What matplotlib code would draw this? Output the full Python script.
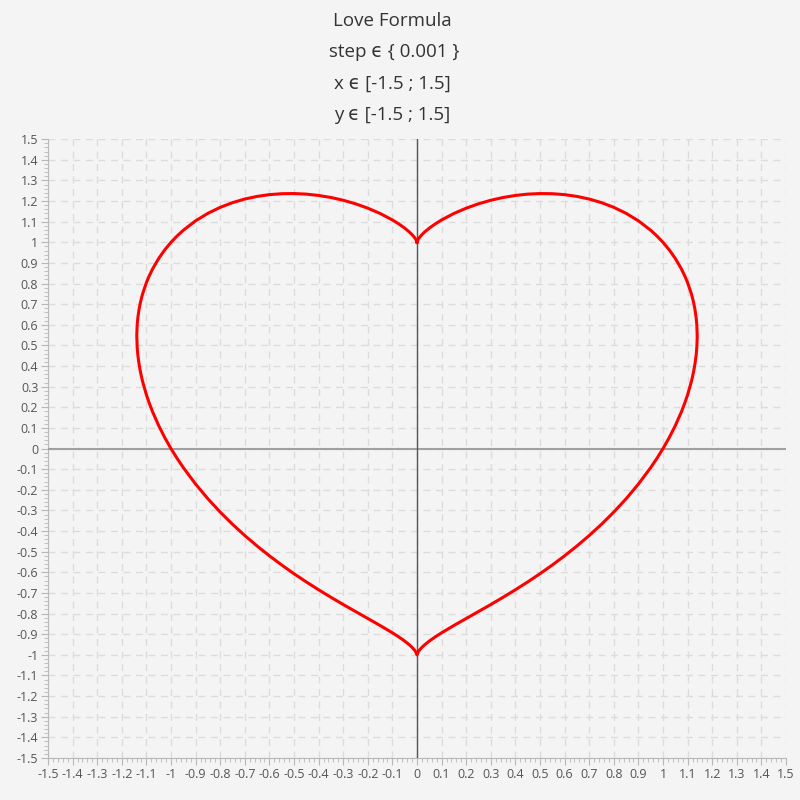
import matplotlib
matplotlib.use("Agg")
import matplotlib.pyplot as plt
from matplotlib.ticker import MultipleLocator, FuncFormatter

# right half of the heart (x >= 0); left half is its mirror
x_right = [0.0, 0.005, 0.01, 0.02, 0.03, 0.05, 0.075, 0.1, 0.15, 0.2, 0.25, 0.3,
           0.35, 0.4, 0.45, 0.5, 0.55, 0.6, 0.65, 0.7, 0.75, 0.8, 0.85, 0.9,
           0.95, 0.975, 1.0, 1.025, 1.05, 1.075, 1.09, 1.1, 1.115, 1.12, 1.125,
           1.13, 1.135, 1.1375, 1.139, 1.13903]
y_upper = [1.0, 1.0147, 1.0234, 1.0373, 1.0490, 1.0689, 1.0900, 1.1085, 1.1399,
           1.1656, 1.1868, 1.2040, 1.2174, 1.2273, 1.2337, 1.2365, 1.2357, 1.2312,
           1.2227, 1.2099, 1.1924, 1.1696, 1.1406, 1.1043, 1.0585, 1.0311, 1.0,
           0.9641, 0.9219, 0.8706, 0.8334, 0.8046, 0.7517, 0.7301, 0.7048, 0.6742,
           0.6322, 0.5991, 0.5527, 0.5453]
y_lower = [-1.0, -0.9855, -0.9768, -0.9636, -0.9524, -0.9332, -0.9122, -0.8931,
           -0.8576, -0.8236, -0.7899, -0.7559, -0.7208, -0.6844, -0.6464, -0.6066,
           -0.5644, -0.5198, -0.4723, -0.4215, -0.3669, -0.3078, -0.2433, -0.1721,
           -0.0921, -0.0479, 0.0, 0.0525, 0.1112, 0.1787, 0.2257, 0.2610, 0.3236,
           0.3485, 0.3769, 0.4108, 0.4559, 0.4906, 0.5379, 0.5453]

title_lines = ["Love Formula", " step \u03f5 { 0.001 }", "x \u03f5 [-1.5 ; 1.5]", "y \u03f5 [-1.5 ; 1.5]"]

plt.rcParams['font.family'] = ['Open Sans', 'DejaVu Sans']

fig = plt.figure(figsize=(8, 8), dpi=100, facecolor='#f4f4f4')
ax = fig.add_axes([0.06, 0.0525, 0.9225, 0.7735])
ax.set_facecolor('#f4f4f4')

# curve: top cusp -> right upper -> right lower -> bottom cusp -> left lower -> left upper
xs = x_right + x_right[::-1] + [-v for v in x_right] + [-v for v in x_right[::-1]]
ys = y_upper + y_lower[::-1] + y_lower + y_upper[::-1]
ax.plot(xs, ys, color='red', lw=2.2, zorder=5, solid_joinstyle='round')

ax.axhline(0, color='#a0a0a0', lw=1.5, zorder=3)
ax.axvline(0, color='#555555', lw=1, zorder=3)

ax.set_xlim(-1.5, 1.5)
ax.set_ylim(-1.5, 1.5)


def fmt(v, pos):
    if abs(v) < 1e-9:
        return '0'
    return ('%.1f' % v).rstrip('0').rstrip('.')


for a in (ax.xaxis, ax.yaxis):
    a.set_major_locator(MultipleLocator(0.1))
    a.set_minor_locator(MultipleLocator(0.02))
    a.set_major_formatter(FuncFormatter(fmt))

ax.grid(True, which='major', color='#dcdcdc', ls=(0, (5, 4)), lw=1)
ax.tick_params(which='major', length=5, color='#b8b8b8', labelsize=9, labelcolor='#555555', pad=2)
ax.tick_params(which='minor', length=3, color='#b8b8b8')
for side in ('top', 'right'):
    ax.spines[side].set_visible(False)
for side in ('left', 'bottom'):
    ax.spines[side].set_color('#b8b8b8')

for i, line in enumerate(title_lines):
    fig.text(0.49, 1 - (21 + 31.3 * i) / 800, line, ha='center', va='center',
             fontsize=13.5, color='#333333')

fig.savefig('out.png', dpi=100, facecolor=fig.get_facecolor())
